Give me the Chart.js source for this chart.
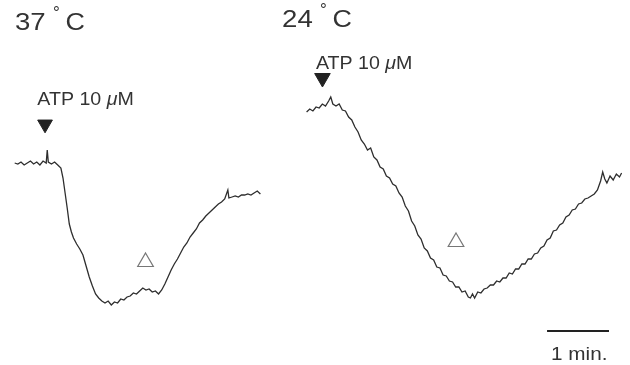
<!DOCTYPE html>
<html>
<head>
<meta charset="utf-8">
<script src="https://cdn.jsdelivr.net/npm/chart.js@4.4.1/dist/chart.umd.min.js"></script>
<style>
  body { margin: 0; background: #fff; }
  #wrap { width: 630px; height: 365px; }
</style>
</head>
<body>
<div id="wrap"><canvas id="traceChart" width="630" height="365"></canvas></div>
<script>
// time in seconds, signal in arbitrary units (higher = up)
const time37 = [14,17,20,23,26,29,32,35,38,41,44,45,46,49,52,55,58,60,62,64,66,68,70,73,76,79,82,85,88,91,94,97,100,103,106,109,112,115,118,121,124,127,130,133,136,139,142,145,148,151,154,157,160,163,166,169,172,175,178,181,184,187,190,193,196,199,202,205,208,211,214,217,218,221,224,227,230,233,236,239,242,245,248];
const signal37 = [202,201,203,200,202,204,201,203,200,204,202,215,203,201,203,200,197,187,172,157,141,133,127,121,116,110,99,88,79,71,67,64,62,64,60,63,62,66,65,68,69,72,71,74,77,75,76,73,74,71,75,81,88,95,101,106,112,118,122,128,132,136,142,145,149,152,155,158,161,163,166,175,167,168,169,168,170,170,171,170,172,174,171];

const time24 = [292,295,298,301,304,307,310,313,315,317,320,323,326,329,332,335,338,341,344,347,350,353,356,359,362,365,368,371,374,377,380,383,386,389,392,395,398,401,404,407,410,413,416,419,422,425,428,431,434,437,440,443,446,448,450,452,455,458,461,464,467,470,473,476,479,482,485,488,491,494,497,500,503,506,509,512,515,518,521,524,527,530,533,536,539,542,545,548,551,554,557,560,563,566,569,572,574,576,578,581,584,587,590,592];
const signal24 = [253,256,254,258,257,261,259,264,268,261,259,261,255,254,248,245,238,233,225,221,215,217,208,205,198,196,189,187,181,179,172,168,159,154,144,139,130,126,117,114,107,105,98,97,90,89,84,83,78,78,73,74,68,67,71,67,73,72,76,77,80,80,84,83,87,87,92,91,96,96,101,101,106,106,111,112,117,119,125,127,134,135,140,142,148,150,155,156,161,162,166,167,169,171,175,184,193,186,182,189,185,191,188,192];

// ATP application (filled) and open-triangle markers
const atpTimes = [42.9, 307.1];
const atpLevels = [240.7, 287];
const openTimes = [138.6, 434.3];
const openLevels = [103, 123];

// 1 min scale bar
const barTimes = [521, 580];
const barLevel = 34;

const panelTitles = ['37', '24'];
const titleTimes = [14.3, 268.6];
const titleLevels = [335, 338];
const atpLabelTimes = [35.5, 300.9];
const atpLabelLevels = [260, 296];

const FONT = '"Liberation Sans", Arial, sans-serif';
const INK = '#333';

function drawParts(ctx, parts, x, y, size, stretch) {
  ctx.save();
  ctx.translate(x, y);
  ctx.scale(stretch, 1);
  let cx = 0;
  parts.forEach(p => {
    ctx.font = (p[1] ? 'italic ' : '') + size + 'px ' + FONT;
    ctx.fillText(p[0], cx, 0);
    cx += ctx.measureText(p[0]).width;
  });
  ctx.restore();
}

const labelPlugin = {
  id: 'labels',
  afterDraw(chart) {
    const ctx = chart.ctx;
    const xs = chart.scales.x, ys = chart.scales.y;
    ctx.save();
    ctx.fillStyle = INK;
    ctx.textBaseline = 'alphabetic';
    ctx.textAlign = 'left';
    panelTitles.forEach((t, i) => {
      const x = xs.getPixelForValue(titleTimes[i]);
      const y = ys.getPixelForValue(titleLevels[i]);
      drawParts(ctx, [[t, false]], x, y, 24, 1.15);
      drawParts(ctx, [['°', false]], x + 38, y - 12, 17, 1);
      drawParts(ctx, [['C', false]], x + 50.5, y, 24, 1.12);
    });
    atpLabelTimes.forEach((t, i) => {
      const x = xs.getPixelForValue(t);
      const y = ys.getPixelForValue(atpLabelLevels[i]);
      drawParts(ctx, [['ATP 10 ', false], ['\u03bc', true], ['M', false]], x, y, 18, 1.09);
    });
    const bx = xs.getPixelForValue(barTimes[0]);
    drawParts(ctx, [['1 min.', false]], bx + 4, ys.getPixelForValue(5), 18, 1.15);
    ctx.restore();
  }
};

const toPoints = (xs, ys) => xs.map((x, i) => ({ x: x, y: ys[i] }));

new Chart(document.getElementById('traceChart'), {
  type: 'line',
  data: {
    datasets: [
      {
        data: toPoints(time37, signal37),
        borderColor: '#2e2e2e', borderWidth: 1.3, pointRadius: 0, tension: 0
      },
      {
        data: toPoints(time24, signal24),
        borderColor: '#2e2e2e', borderWidth: 1.3, pointRadius: 0, tension: 0
      },
      {
        data: toPoints(atpTimes, atpLevels),
        showLine: false, pointStyle: 'triangle', pointRotation: 180,
        pointRadius: [8.5, 9], backgroundColor: '#222', borderColor: '#222', borderWidth: 1
      },
      {
        data: toPoints(openTimes, openLevels),
        showLine: false, pointStyle: 'triangle',
        pointRadius: 9, backgroundColor: 'rgba(0,0,0,0)', borderColor: '#777', borderWidth: 1.2
      },
      {
        data: toPoints(barTimes, [barLevel, barLevel]),
        borderColor: '#222', borderWidth: 2, pointRadius: 0, borderCapStyle: 'butt'
      }
    ]
  },
  options: {
    responsive: false,
    animation: false,
    layout: { padding: 0, autoPadding: false },
    scales: {
      x: { type: 'linear', min: 0, max: 600, display: false },
      y: { type: 'linear', min: 0, max: 365, display: false }
    },
    plugins: {
      legend: { display: false },
      tooltip: { enabled: false }
    }
  },
  plugins: [labelPlugin]
});
</script>
</body>
</html>
